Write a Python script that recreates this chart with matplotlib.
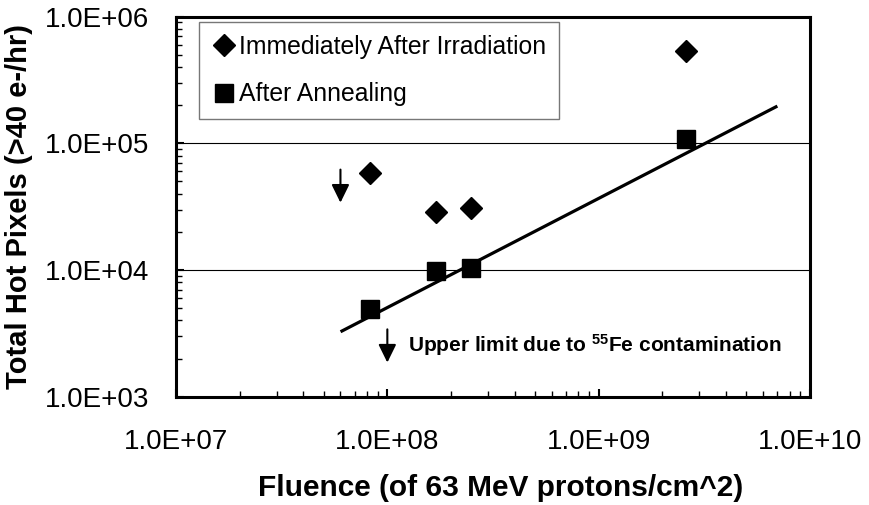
import matplotlib
matplotlib.use("Agg")
import matplotlib.pyplot as plt
from matplotlib.ticker import LogLocator, FixedLocator, NullFormatter

plt.rcParams['font.family'] = ['Liberation Sans', 'DejaVu Sans']
plt.rcParams['mathtext.fontset'] = 'custom'
plt.rcParams['mathtext.rm'] = 'Liberation Sans:bold'
plt.rcParams['mathtext.bf'] = 'Liberation Sans:bold'
plt.rcParams['mathtext.default'] = 'bf'

# Data
immediate_x = [8.3e7, 1.7e8, 2.5e8, 2.6e9]
immediate_y = [5.8e4, 2.87e4, 3.08e4, 5.35e5]
annealed_x = [8.3e7, 1.7e8, 2.5e8, 2.6e9]
annealed_y = [4.9e3, 9.8e3, 1.03e4, 1.08e5]
fit_x = [6.1e7, 6.9e9]
fit_y = [3.3e3, 1.94e5]
arrow_x = [6.0e7, 1.0e8]
arrow_top = [6.2e4, 3.4e3]
arrow_bottom = [3.4e4, 1.86e3]
x_ticks = [1e7, 1e8, 1e9, 1e10]
x_tick_labels = ["1.0E+07", "1.0E+08", "1.0E+09", "1.0E+10"]
y_ticks = [1e3, 1e4, 1e5, 1e6]
y_tick_labels = ["1.0E+03", "1.0E+04", "1.0E+05", "1.0E+06"]

fig = plt.figure(figsize=(8.69, 5.05), dpi=100)
ax = fig.add_axes([176/869, 1 - 396.7/505, (810-176)/869, (396.7-16.6)/505])

ax.set_xscale('log')
ax.set_yscale('log')
ax.set_xlim(1e7, 1e10)
ax.set_ylim(1e3, 1e6)

# grid lines at interior major y ticks
for yv in y_ticks[1:-1]:
    ax.axhline(yv, color='black', lw=0.8, zorder=1)

ax.plot(fit_x, fit_y, color='black', lw=2.3, zorder=2)
ax.plot(immediate_x, immediate_y, linestyle='none', marker='D', ms=11.5,
        color='black', label='Immediately After Irradiation', zorder=3)
ax.plot(annealed_x, annealed_y, linestyle='none', marker='s', ms=13,
        color='black', label='After Annealing', zorder=3)

for xa, yt, yb in zip(arrow_x, arrow_top, arrow_bottom):
    ax.annotate('', xy=(xa, yb), xytext=(xa, yt),
                arrowprops=dict(arrowstyle='-|>,head_length=0.55,head_width=0.27',
                                mutation_scale=20, lw=1.5, color='black',
                                shrinkA=0, shrinkB=0))

ax.text(1.25e8, 2.55e3, r"Upper limit due to $^{55}$Fe contamination",
        fontsize=15, fontweight='bold', va='center', ha='left')

ax.xaxis.set_major_locator(FixedLocator(x_ticks))
ax.set_xticklabels(x_tick_labels)
ax.yaxis.set_major_locator(FixedLocator(y_ticks))
ax.set_yticklabels(y_tick_labels)
ax.xaxis.set_minor_locator(LogLocator(base=10, subs=range(2, 10)))
ax.yaxis.set_minor_locator(LogLocator(base=10, subs=range(2, 10)))
ax.xaxis.set_minor_formatter(NullFormatter())
ax.yaxis.set_minor_formatter(NullFormatter())

ax.tick_params(axis='both', which='both', direction='in', colors='black',
               labelsize=20)
ax.tick_params(axis='x', which='major', length=6, width=1.5, pad=23)
ax.tick_params(axis='x', which='minor', length=4, width=1)
ax.tick_params(axis='y', which='major', length=6, width=1.5, pad=19)
ax.tick_params(axis='y', which='minor', length=4, width=1)

for sp in ax.spines.values():
    sp.set_linewidth(2.2)
    sp.set_color('black')

ax.set_xlabel("Fluence (of 63 MeV protons/cm^2)", fontsize=21.5,
              fontweight='bold')
ax.set_ylabel("Total Hot Pixels (>40 e-/hr)", fontsize=21,
              fontweight='bold')
ax.yaxis.set_label_coords(-0.2256, 0.5)
ax.xaxis.set_label_coords(0.5 + 8/634, -(474-396.7)/(396.7-16.6))

leg = ax.legend(loc='upper left', bbox_to_anchor=((199-176)/634, 1 - (22-16.6)/380.1),
                fontsize=17.8, frameon=True, fancybox=False, borderpad=0.52,
                handletextpad=0.08, handlelength=1.0, labelspacing=0.95,
                borderaxespad=0)
leg.get_frame().set_edgecolor('#555555')
leg.get_frame().set_linewidth(1.0)

fig.savefig('out.png', dpi=100)
